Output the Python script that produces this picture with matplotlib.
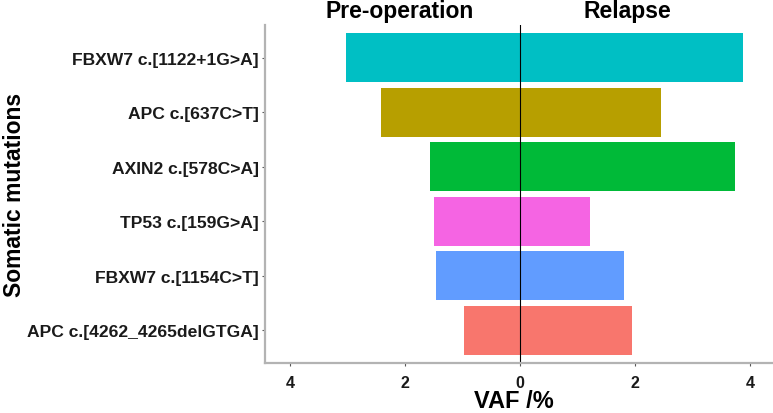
import matplotlib
matplotlib.use("Agg")
import matplotlib.pyplot as plt
import numpy as np

plt.rcParams["font.family"] = ["Liberation Sans", "DejaVu Sans"]
plt.rcParams["font.weight"] = "bold"

# bottom to top, as on the chart
mutations = [
    "APC c.[4262_4265delGTGA]",
    "FBXW7 c.[1154C>T]",
    "TP53 c.[159G>A]",
    "AXIN2 c.[578C>A]",
    "APC c.[637C>T]",
    "FBXW7 c.[1122+1G>A]",
]
pre_operation = [0.97, 1.46, 1.50, 1.56, 2.42, 3.03]
relapse = [1.95, 1.81, 1.22, 3.74, 2.45, 3.87]
colors = ["#F8766D", "#619CFF", "#F564E3", "#00BA38", "#B79F00", "#00BFC4"]

xticks = [-4, -2, 0, 2, 4]
xtick_labels = ["4", "2", "0", "2", "4"]

fig = plt.figure(figsize=(7.73, 4.14), dpi=100)
ax = fig.add_axes([0.343, 0.121, 0.656, 0.816])

y = np.arange(1, len(mutations) + 1)
ax.barh(y, -np.array(pre_operation), height=0.9, color=colors)
ax.barh(y, relapse, height=0.9, color=colors)
ax.axvline(0, color="black", linewidth=0.8)

ax.set_xlim(-4.43, 4.38)
ax.set_ylim(0.4, len(mutations) + 0.6)
ax.set_yticks(y)
ax.set_yticklabels(mutations, fontsize=12.6, fontweight="bold", color="#1a1a1a")
ax.set_xticks(xticks)
ax.set_xticklabels(xtick_labels, fontsize=11.5, fontweight="bold", color="#1a1a1a")

for side in ["top", "right"]:
    ax.spines[side].set_visible(False)
for side in ["left", "bottom"]:
    ax.spines[side].set_color("#b3b3b3")
    ax.spines[side].set_linewidth(1.6)
ax.tick_params(axis="both", length=2.5, width=0.8, color="#555555")
ax.tick_params(axis="x", pad=6)
ax.tick_params(axis="y", pad=2)

ax.set_xlabel("VAF /%", fontsize=17, fontweight="bold")
ax.xaxis.label.set_va("baseline")
ax.xaxis.set_label_coords(0.49, -0.131)
ax.set_ylabel("Somatic mutations", fontsize=16.5, fontweight="bold")
ax.yaxis.set_label_coords(-0.472, 0.5)

trans = ax.get_xaxis_transform()
ax.annotate("Pre-operation", xy=(-2.1, 1.0), xycoords=trans,
            xytext=(0, 5.5), textcoords="offset points",
            ha="center", va="baseline", fontsize=16.5, fontweight="bold")
ax.annotate("Relapse", xy=(1.86, 1.0), xycoords=trans,
            xytext=(0, 5.5), textcoords="offset points",
            ha="center", va="baseline", fontsize=16.5, fontweight="bold")

fig.savefig("out.png", dpi=100)
